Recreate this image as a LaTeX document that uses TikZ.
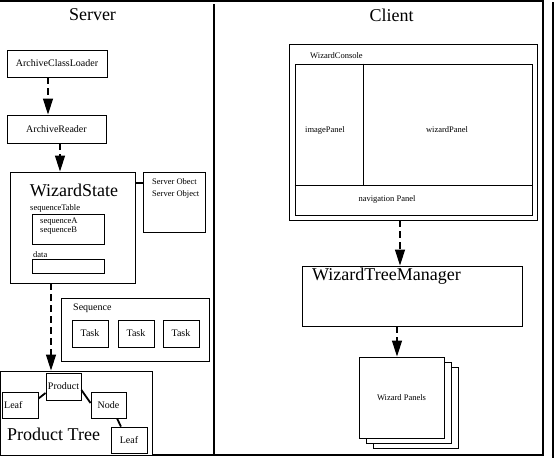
\documentclass[tikz,border=0pt]{standalone}
\usepackage{fontspec}
\setmainfont{Liberation Serif}
\usetikzlibrary{arrows.meta}
\begin{document}
\begin{tikzpicture}[x=1pt,y=-1pt,
  box/.style 2 args={draw, line width=0.9pt, inner sep=0pt, fill=white,
    minimum width=#1pt, minimum height=#2pt},
  tiny/.style={font=\fontsize{8.5}{10}\selectfont},
  small/.style={font=\fontsize{10}{12}\selectfont},
  big/.style={font=\fontsize{18}{20}\selectfont},
  lbl/.style={inner sep=0pt},
  frame/.style={line width=2.5pt},
  dasharrow/.style={line width=1.2pt, dash pattern=on 7pt off 4pt,
    -{Triangle[length=16pt,width=10pt]}},
  conn/.style={line width=1.8pt}]
\useasboundingbox (0,0) rectangle (554,458);
% frame
\draw[line width=2pt] (0,1) -- (544,1);
\draw[frame] (543,0) -- (543,455.5);
\draw[frame] (0,455) -- (544,455);
\draw[frame] (214,4) -- (214,455);
\draw[line width=2pt] (553,2) -- (553,458);
% titles
\node[lbl, big] (server) at (92.5,15) {Server};
\node[lbl, big] (client) at (391.5,15) {Client};
% server side
\node[box={100}{27}, small] (acl) at (57,63.5) {ArchiveClassLoader};
\node[box={99}{28}, small] (ar) at (56.5,129) {ArchiveReader};
\node[box={125}{111}] (ws) at (72.5,227.5) {};
\node[lbl, big] (wstext) at (74,190) {WizardState};
\node[lbl, tiny, anchor=base west] (seqtablbl) at (30,210.5) {sequenceTable};
\node[box={72}{30}] (seqtab) at (68,229) {};
\node[lbl, tiny, anchor=base west] (seqa) at (40,223.5) {sequenceA};
\node[lbl, tiny, anchor=base west] (seqb) at (40,232) {sequenceB};
\node[lbl, tiny, anchor=base west] (datalbl) at (33,257) {data};
\node[box={72}{14}] (databox) at (68,266) {};
\node[box={62}{60}] (so) at (174,202) {};
\node[lbl, tiny, anchor=base west] (so1) at (152,184) {Server Obect};
\node[lbl, tiny, anchor=base west] (so2) at (152,196) {Server Object};
\node[box={148}{63}] (seq) at (135,329.5) {};
\node[lbl, small, anchor=base west] (seqlbl) at (73,310) {Sequence};
\node[box={36}{27}, small] (task1) at (90,333.5) {Task};
\node[box={36}{27}, small] (task2) at (136,333.5) {Task};
\node[box={36}{27}, small] (task3) at (181,333.5) {Task};
\node[box={152}{84}] (pt) at (76,413) {};
\node[lbl, big, anchor=base west] (pttext) at (7,440) {Product Tree};
\node[box={35}{27}, small] (product) at (63.5,386.5) {Product};
\node[box={36}{26}] (leaf1) at (20,405) {};
\node[lbl, small, anchor=west] (leaf1text) at (4,405) {Leaf};
\node[box={35}{26}, small] (nodebox) at (108.5,405) {Node};
\node[box={36}{26}, small] (leaf2) at (129,440) {Leaf};
% server connectors
\draw[dasharrow] ([xshift=-9pt]acl.south) -- ([xshift=-8.5pt]ar.north);
\draw[dasharrow] ([xshift=3.5pt]ar.south) -- ([xshift=-12.5pt]ws.north);
\draw[dasharrow] ([xshift=-21.5pt]ws.south) -- ([xshift=-25pt]pt.north);
\draw[conn] ([yshift=44.5pt]ws.east) -- ([yshift=19pt]so.west);
\draw[conn] ([yshift=-7pt]leaf1.north east) -- ([yshift=-6.5pt]product.west);
\draw[conn] ([yshift=-3.5pt]product.east) -- ([yshift=2pt]nodebox.west);
\draw[conn] ([xshift=8.5pt]nodebox.south) -- ([xshift=-8pt]leaf2.north);
% client side
\node[box={248}{176}] (wc) at (413,132) {};
\node[lbl, tiny, anchor=base west] (wclbl) at (310,58) {WizardConsole};
\node[box={237}{151}] (wci) at (413.5,139.5) {};
\draw[line width=0.9pt] ([yshift=30pt]wci.south west) -- ([yshift=30pt]wci.south east);
\draw[line width=0.9pt] ([xshift=69pt]wci.north west) -- ([xshift=69pt,yshift=30pt]wci.south west);
\node[lbl, tiny] (imgp) at (325,130) {imagePanel};
\node[lbl, tiny] (wizp) at (447,130) {wizardPanel};
\node[lbl, tiny] (navp) at (387,199) {navigation Panel};
\node[box={220}{60}] (wtm) at (412,296) {};
\node[lbl, big, anchor=base west] (wtmtext) at (312,280) {WizardTreeManager};
\node[box={85}{81}] (wp3) at (415.5,407.5) {};
\node[box={85}{81}] (wp2) at (408.5,402.5) {};
\node[box={85}{81}, tiny] (wp) at (401.5,397.5) {Wizard Panels};
\draw[dasharrow] ([xshift=-13pt]wc.south) -- ([xshift=-12pt]wtm.north);
\draw[dasharrow] ([xshift=-15pt]wtm.south) -- ([xshift=-4.5pt]wp.north);
\end{tikzpicture}
\end{document}
